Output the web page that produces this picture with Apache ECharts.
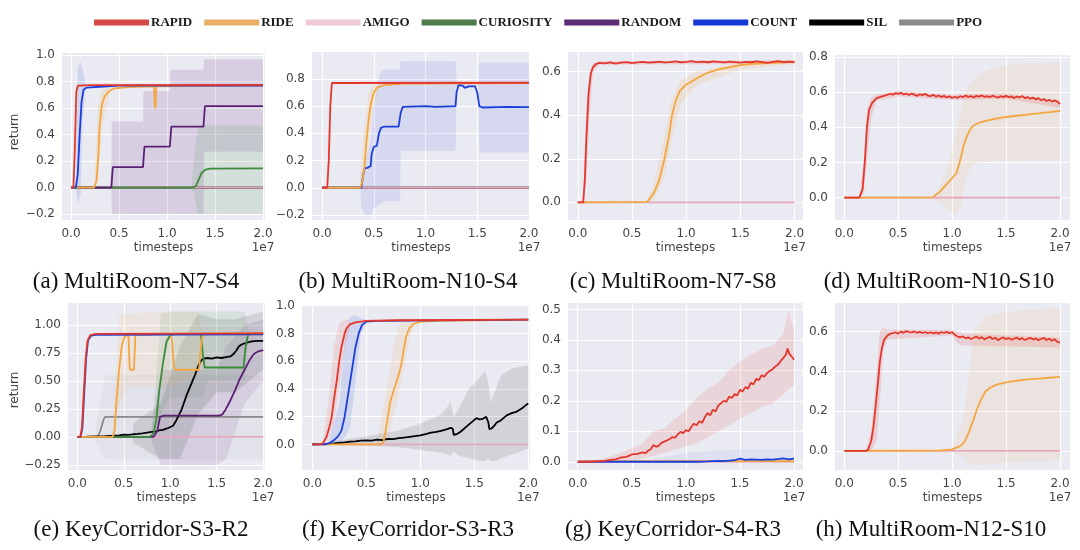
<!DOCTYPE html>
<html><head><meta charset="utf-8">
<script src="https://cdn.jsdelivr.net/npm/echarts@6/dist/echarts.min.js"></script>
<style>html,body{margin:0;padding:0;background:#fff}#c{width:1080px;height:550px}</style>
</head><body><div id="c"></div>
<script>
// ---------------- DATA (x in units of 1e7 timesteps) ----------------
const seriesNames = ['RAPID','RIDE','AMIGO','CURIOSITY','RANDOM','COUNT','SIL','PPO'];
const xTicks = [0, 0.5, 1.0, 1.5, 2.0];
const yTicksA = [-0.2, 0, 0.2, 0.4, 0.6, 0.8, 1.0];
const yTicksB = [-0.2, 0, 0.2, 0.4, 0.6, 0.8];
const yTicksC = [0, 0.2, 0.4, 0.6];
const yTicksD = [0, 0.2, 0.4, 0.6, 0.8];
const yTicksE = [-0.25, 0, 0.25, 0.5, 0.75, 1.0];
const yTicksF = [0, 0.2, 0.4, 0.6, 0.8, 1.0];
const yTicksG = [0, 0.1, 0.2, 0.3, 0.4, 0.5];
const yTicksH = [0, 0.2, 0.4, 0.6];
const captions = ['(a) MultiRoom-N7-S4','(b) MultiRoom-N10-S4','(c) MultiRoom-N7-S8','(d) MultiRoom-N10-S10',
                  '(e) KeyCorridor-S3-R2','(f) KeyCorridor-S3-R3','(g) KeyCorridor-S4-R3','(h) MultiRoom-N12-S10'];
const zeroLine = [[0,0],[2.0,0]];

// (a) MultiRoom-N7-S4
const a_RAPID = [[0,0],[0.025,0],[0.04,0.3],[0.055,0.72],[0.07,0.77],[0.2,0.774],[2.0,0.776]];
const a_COUNT = [[0,0],[0.05,0],[0.07,0.1],[0.09,0.4],[0.11,0.65],[0.13,0.74],[0.16,0.755],[0.3,0.762],[0.5,0.77],[2.0,0.77]];
const a_RIDE = [[0,0],[0.24,0],[0.265,0.05],[0.285,0.25],[0.3,0.48],[0.32,0.62],[0.35,0.69],[0.4,0.73],[0.45,0.75],[0.6,0.76],[0.865,0.765],[0.872,0.62],[0.88,0.6],[0.888,0.765],[2.0,0.77]];
const a_RANDOM = [[0,0],[0.42,0],[0.435,0.155],[0.75,0.155],[0.765,0.31],[1.03,0.31],[1.045,0.46],[1.38,0.46],[1.395,0.615],[2.0,0.615]];
const a_CURIOSITY = [[0,0],[1.26,0],[1.3,0.01],[1.33,0.06],[1.36,0.11],[1.4,0.135],[1.45,0.143],[2.0,0.145]];
const a_RANDOM_band = [[0.42,0,0],[0.425,-0.2,0.5],[0.75,-0.2,0.5],[0.755,-0.2,0.73],[1.03,-0.2,0.73],[1.035,-0.2,0.89],[1.38,-0.2,0.89],[1.385,0.27,0.97],[2.0,0.27,0.97]];
const a_CURIOSITY_band = [[1.25,0,0],[1.28,-0.05,0.2],[1.32,-0.2,0.45],[1.36,-0.2,0.47],[2.0,-0.2,0.47]];
const a_COUNT_band = [[0.05,0,0],[0.07,-0.12,0.9],[0.1,-0.05,0.95],[0.12,0.5,0.9],[0.15,0.74,0.78]];
const a_RIDE_band = [[0.24,0,0.02],[0.28,0.05,0.6],[0.32,0.45,0.74],[0.4,0.7,0.76]];

// (b) MultiRoom-N10-S4
const b_RAPID = [[0,0],[0.05,0],[0.065,0.2],[0.08,0.6],[0.095,0.77],[2.0,0.772]];
const b_RIDE = [[0,0],[0.37,0],[0.39,0.05],[0.41,0.15],[0.43,0.35],[0.45,0.5],[0.47,0.61],[0.5,0.7],[0.53,0.735],[0.6,0.755],[0.8,0.765],[2.0,0.77]];
const b_COUNT = [[0,0],[0.38,0],[0.395,0.08],[0.41,0.14],[0.45,0.15],[0.47,0.16],[0.48,0.25],[0.5,0.3],[0.53,0.31],[0.55,0.4],[0.57,0.44],[0.6,0.45],[0.74,0.45],[0.76,0.55],[0.78,0.595],[1.0,0.6],[1.1,0.595],[1.29,0.6],[1.3,0.7],[1.32,0.755],[1.36,0.75],[1.38,0.735],[1.42,0.745],[1.48,0.745],[1.5,0.7],[1.52,0.6],[1.55,0.59],[1.8,0.595],[2.0,0.593]];
const b_COUNT_band = [[0.37,0,0],[0.38,-0.15,0.1],[0.42,-0.2,0.2],[0.47,-0.2,0.35],[0.5,-0.15,0.6],[0.56,-0.12,0.85],[0.6,-0.1,0.87],[0.755,-0.1,0.87],[0.76,0.27,0.93],[1.29,0.27,0.93],[1.3,0.74,0.77],[1.51,0.74,0.77],[1.52,0.26,0.92],[2.0,0.26,0.92]];
const b_RIDE_band = [[0.36,0,0.02],[0.4,0.05,0.4],[0.45,0.35,0.7],[0.5,0.6,0.76],[0.55,0.72,0.77]];

// (c) MultiRoom-N7-S8
const c_RAPID = [[0,0],[0.05,0],[0.065,0.1],[0.08,0.3],[0.1,0.5],[0.12,0.59],[0.14,0.62],[0.17,0.635],[0.2,0.64],[0.25,0.638],[0.3,0.642],[0.35,0.637],[0.4,0.641],[0.45,0.644],[0.5,0.639],[0.55,0.642],[0.6,0.645],[0.65,0.641],[0.7,0.643],[0.75,0.646],[0.8,0.642],[0.85,0.644],[0.9,0.647],[0.95,0.643],[1.0,0.645],[1.05,0.648],[1.1,0.644],[1.15,0.646],[1.2,0.643],[1.25,0.647],[1.3,0.645],[1.35,0.642],[1.4,0.646],[1.45,0.644],[1.5,0.641],[1.55,0.645],[1.6,0.643],[1.65,0.647],[1.7,0.644],[1.75,0.64],[1.8,0.645],[1.85,0.648],[1.9,0.643],[1.95,0.646],[2.0,0.644]];
const c_RIDE = [[0,0],[0.64,0.002],[0.7,0.04],[0.75,0.1],[0.8,0.2],[0.84,0.3],[0.87,0.4],[0.9,0.46],[0.94,0.51],[1.0,0.54],[1.1,0.57],[1.2,0.595],[1.3,0.61],[1.4,0.62],[1.5,0.63],[1.6,0.635],[1.7,0.638],[1.8,0.64],[1.9,0.642],[2.0,0.645]];
const c_RAPID_band = [[0.05,0,0.01],[0.08,0.1,0.45],[0.11,0.4,0.6],[0.14,0.6,0.64],[0.2,0.632,0.648],[2.0,0.636,0.652]];
const c_RIDE_band = [[0.64,0,0.01],[0.7,0.01,0.08],[0.8,0.12,0.3],[0.87,0.3,0.48],[0.95,0.45,0.56],[1.1,0.54,0.6],[1.5,0.61,0.645],[2.0,0.635,0.655]];

// (d) MultiRoom-N10-S10
const d_RAPID = [[0,0],[0.14,0],[0.17,0.05],[0.19,0.2],[0.21,0.4],[0.23,0.5],[0.26,0.54],[0.3,0.565],[0.35,0.575],[0.4,0.583],[0.425,0.59],[0.45,0.585],[0.475,0.593],[0.5,0.589],[0.525,0.595],[0.55,0.586],[0.575,0.59],[0.6,0.583],[0.625,0.591],[0.65,0.585],[0.675,0.578],[0.7,0.587],[0.725,0.582],[0.75,0.59],[0.775,0.579],[0.8,0.576],[0.825,0.584],[0.85,0.574],[0.875,0.58],[0.9,0.571],[0.925,0.578],[0.95,0.569],[0.975,0.575],[1.0,0.566],[1.025,0.573],[1.05,0.567],[1.075,0.576],[1.1,0.57],[1.125,0.58],[1.15,0.572],[1.175,0.577],[1.2,0.569],[1.225,0.578],[1.25,0.574],[1.275,0.581],[1.3,0.572],[1.325,0.576],[1.35,0.57],[1.375,0.579],[1.4,0.573],[1.425,0.568],[1.45,0.576],[1.475,0.571],[1.5,0.578],[1.525,0.57],[1.55,0.575],[1.575,0.566],[1.6,0.574],[1.625,0.569],[1.65,0.577],[1.675,0.565],[1.7,0.571],[1.725,0.562],[1.75,0.568],[1.775,0.558],[1.8,0.565],[1.825,0.553],[1.85,0.56],[1.875,0.549],[1.9,0.556],[1.925,0.546],[1.95,0.552],[1.975,0.545],[2.0,0.532]];
const d_RIDE = [[0,0],[0.82,0.002],[0.88,0.03],[0.94,0.07],[1.0,0.11],[1.04,0.14],[1.07,0.2],[1.1,0.28],[1.13,0.34],[1.17,0.39],[1.2,0.41],[1.25,0.425],[1.3,0.435],[1.4,0.448],[1.5,0.458],[1.6,0.465],[1.7,0.472],[1.8,0.478],[1.9,0.485],[2.0,0.492]];
const d_RAPID_band = [[0.14,0,0.01],[0.18,0.02,0.2],[0.21,0.2,0.5],[0.25,0.45,0.57],[0.3,0.55,0.585],[0.5,0.575,0.605],[1.0,0.555,0.585],[1.5,0.56,0.59],[2.0,0.51,0.55]];
const d_RIDE_band = [[0.82,0,0.005],[0.9,-0.03,0.08],[0.97,-0.07,0.2],[1.03,-0.1,0.35],[1.08,-0.05,0.5],[1.12,0.1,0.6],[1.18,0.18,0.66],[1.25,0.2,0.7],[1.4,0.21,0.74],[1.6,0.21,0.76],[2.0,0.22,0.77]];

// (e) KeyCorridor-S3-R2
const e_RAPID = [[0,0],[0.03,0],[0.05,0.08],[0.07,0.4],[0.09,0.7],[0.11,0.86],[0.14,0.91],[0.2,0.92],[2.0,0.925]];
const e_COUNT = [[0,0],[0.035,0],[0.055,0.08],[0.075,0.4],[0.095,0.7],[0.115,0.86],[0.15,0.905],[0.2,0.912],[2.0,0.915]];
const e_RIDE = [[0,0],[0.38,0],[0.4,0.05],[0.42,0.3],[0.45,0.6],[0.48,0.82],[0.51,0.9],[0.55,0.91],[0.565,0.6],[0.61,0.6],[0.625,0.91],[1.0,0.92],[1.02,0.85],[1.04,0.62],[1.06,0.6],[1.31,0.6],[1.33,0.8],[1.35,0.92],[2.0,0.925]];
const e_CURIOSITY = [[0,0],[0.78,0],[0.82,0.03],[0.85,0.15],[0.88,0.4],[0.92,0.65],[0.96,0.85],[1.0,0.91],[1.05,0.92],[1.33,0.92],[1.35,0.75],[1.37,0.62],[1.79,0.62],[1.81,0.8],[1.84,0.92],[2.0,0.925]];
const e_SIL = [[0,0],[0.1,0.002],[0.2,0.005],[0.3,0.008],[0.35,0.01],[0.4,0.012],[0.45,0.015],[0.5,0.02],[0.55,0.018],[0.6,0.024],[0.65,0.027],[0.7,0.032],[0.75,0.038],[0.8,0.045],[0.85,0.05],[0.88,0.058],[0.92,0.063],[0.95,0.072],[0.98,0.08],[1.0,0.09],[1.03,0.1],[1.06,0.14],[1.09,0.19],[1.12,0.24],[1.15,0.31],[1.18,0.38],[1.21,0.44],[1.24,0.5],[1.27,0.56],[1.3,0.63],[1.33,0.68],[1.36,0.7],[1.4,0.705],[1.45,0.7],[1.5,0.71],[1.55,0.705],[1.6,0.712],[1.65,0.72],[1.68,0.74],[1.71,0.77],[1.74,0.81],[1.78,0.83],[1.82,0.84],[1.86,0.85],[1.9,0.855],[1.95,0.857],[2.0,0.858]];
const e_RANDOM = [[0,0],[0.82,0],[0.86,0.05],[0.89,0.18],[0.93,0.19],[1.52,0.19],[1.56,0.2],[1.6,0.25],[1.65,0.33],[1.7,0.42],[1.75,0.52],[1.8,0.6],[1.85,0.68],[1.9,0.74],[1.95,0.765],[2.0,0.775]];
const e_PPO = [[0,0],[0.22,0],[0.25,0.06],[0.28,0.15],[0.3,0.18],[2.0,0.18]];
const e_PPO_band = [[0.2,-0.05,0.1],[0.3,-0.2,0.55],[2.0,-0.2,0.55]];
const e_RANDOM_band = [[0.8,-0.05,0.1],[0.9,-0.25,0.6],[1.5,-0.25,0.6],[1.6,-0.2,0.8],[1.8,0.3,1.0],[2.0,0.5,1.05]];
const e_SIL_band = [[0.6,-0.05,0.12],[0.9,-0.2,0.3],[1.1,-0.2,0.8],[1.3,0.2,1.1],[1.5,0.4,1.05],[1.7,0.4,1.05],[2.0,0.6,1.12]];
const e_RIDE_band = [[0.38,0,0.02],[0.45,0.3,1.1],[0.55,0.45,1.1],[1.0,0.45,1.12],[1.3,0.55,1.12],[1.35,0.9,0.94],[2.0,0.9,0.94]];
const e_CURIOSITY_band = [[0.8,0,0.02],[0.9,0.2,1.1],[1.0,0.35,1.12],[1.35,0.35,1.12],[1.4,0.5,1.12],[1.8,0.5,1.12],[1.85,0.9,0.94],[2.0,0.9,0.94]];

// (f) KeyCorridor-S3-R3
const f_RAPID = [[0,0],[0.07,0],[0.1,0.01],[0.13,0.05],[0.16,0.13],[0.18,0.2],[0.2,0.32],[0.225,0.45],[0.25,0.6],[0.27,0.7],[0.3,0.8],[0.32,0.84],[0.35,0.865],[0.4,0.88],[0.5,0.89],[0.8,0.895],[2.0,0.9]];
const f_COUNT = [[0,0],[0.12,0],[0.16,0.01],[0.2,0.03],[0.24,0.06],[0.27,0.1],[0.3,0.2],[0.33,0.35],[0.36,0.5],[0.38,0.6],[0.4,0.7],[0.43,0.8],[0.46,0.86],[0.5,0.885],[0.6,0.89],[2.0,0.9]];
const f_RIDE = [[0,0],[0.64,0],[0.66,0.02],[0.68,0.1],[0.7,0.2],[0.72,0.3],[0.75,0.38],[0.78,0.45],[0.81,0.53],[0.83,0.6],[0.85,0.7],[0.87,0.78],[0.9,0.84],[0.94,0.87],[1.0,0.885],[1.2,0.89],[2.0,0.9]];
const f_SIL = [[0,0],[0.1,0.003],[0.2,0.008],[0.25,0.012],[0.3,0.015],[0.35,0.02],[0.4,0.022],[0.45,0.027],[0.5,0.03],[0.55,0.028],[0.6,0.035],[0.65,0.032],[0.7,0.04],[0.75,0.038],[0.8,0.045],[0.85,0.05],[0.9,0.055],[0.95,0.06],[1.0,0.065],[1.05,0.075],[1.1,0.085],[1.15,0.09],[1.2,0.1],[1.25,0.11],[1.28,0.12],[1.3,0.115],[1.31,0.07],[1.32,0.06],[1.34,0.075],[1.37,0.09],[1.4,0.11],[1.43,0.13],[1.46,0.15],[1.49,0.17],[1.52,0.19],[1.55,0.18],[1.58,0.185],[1.61,0.2],[1.63,0.16],[1.64,0.11],[1.66,0.115],[1.68,0.13],[1.71,0.16],[1.74,0.17],[1.77,0.19],[1.8,0.21],[1.83,0.22],[1.86,0.23],[1.89,0.235],[1.92,0.25],[1.95,0.265],[1.98,0.285],[2.0,0.295]];
const f_SIL_band = [[0,0,0],[0.5,-0.01,0.06],[0.8,-0.02,0.1],[1.0,-0.04,0.15],[1.2,-0.06,0.22],[1.28,-0.08,0.3],[1.31,-0.05,0.2],[1.35,-0.08,0.25],[1.45,-0.1,0.4],[1.55,-0.12,0.48],[1.6,-0.12,0.53],[1.63,-0.1,0.45],[1.65,-0.12,0.3],[1.7,-0.12,0.4],[1.75,-0.1,0.5],[1.85,-0.07,0.55],[2.0,-0.03,0.57]];
const f_COUNT_band = [[0.15,0,0.02],[0.25,0.01,0.3],[0.3,0.05,0.75],[0.35,0.12,0.92],[0.4,0.45,0.93],[0.45,0.8,0.91],[0.5,0.87,0.9]];
const f_RAPID_band = [[0.1,0,0.04],[0.15,0.05,0.3],[0.2,0.15,0.7],[0.25,0.4,0.87],[0.3,0.7,0.9],[0.35,0.83,0.9]];
const f_RIDE_band = [[0.6,0,0.02],[0.7,0.03,0.45],[0.75,0.2,0.7],[0.8,0.35,0.85],[0.85,0.55,0.9],[0.9,0.78,0.9],[0.95,0.86,0.9]];

// (g) KeyCorridor-S4-R3
const g_RAPID = [[0,0],[0.1,0],[0.2,0.002],[0.25,0.003],[0.3,0.006],[0.35,0.008],[0.4,0.014],[0.45,0.016],[0.5,0.024],[0.55,0.026],[0.6,0.031],[0.625,0.028],[0.65,0.036],[0.675,0.041],[0.7,0.055],[0.725,0.049],[0.75,0.053],[0.775,0.062],[0.8,0.066],[0.825,0.07],[0.85,0.075],[0.875,0.081],[0.9,0.079],[0.925,0.09],[0.95,0.098],[0.975,0.094],[1.0,0.104],[1.025,0.1],[1.05,0.114],[1.075,0.125],[1.1,0.12],[1.125,0.133],[1.15,0.128],[1.175,0.146],[1.2,0.16],[1.225,0.152],[1.25,0.171],[1.275,0.165],[1.3,0.185],[1.325,0.192],[1.35,0.2],[1.375,0.197],[1.4,0.214],[1.425,0.209],[1.45,0.222],[1.475,0.218],[1.5,0.236],[1.525,0.231],[1.55,0.245],[1.575,0.24],[1.6,0.259],[1.625,0.254],[1.65,0.272],[1.675,0.268],[1.7,0.284],[1.725,0.279],[1.75,0.291],[1.775,0.298],[1.8,0.303],[1.825,0.312],[1.85,0.318],[1.875,0.33],[1.9,0.34],[1.925,0.352],[1.94,0.372],[1.955,0.355],[1.97,0.36],[1.985,0.342],[2.0,0.335]];
const g_COUNT = [[0,0],[1.1,0],[1.2,0.001],[1.3,0.003],[1.35,0.002],[1.4,0.004],[1.45,0.005],[1.5,0.01],[1.55,0.006],[1.6,0.008],[1.65,0.007],[1.7,0.006],[1.75,0.008],[1.8,0.007],[1.85,0.009],[1.9,0.011],[1.95,0.008],[2.0,0.01]];
const g_RIDE = [[0,0],[0.3,0.002],[2.0,0.002]];
const g_RAPID_band = [[0.2,0,0.005],[0.4,0.005,0.03],[0.6,0.01,0.06],[0.7,0.02,0.1],[0.8,0.03,0.11],[0.9,0.04,0.14],[1.0,0.05,0.17],[1.1,0.06,0.21],[1.2,0.08,0.24],[1.3,0.1,0.26],[1.4,0.12,0.3],[1.5,0.14,0.33],[1.6,0.16,0.35],[1.7,0.18,0.37],[1.8,0.19,0.38],[1.9,0.22,0.42],[1.95,0.24,0.5],[2.0,0.25,0.43]];
const g_COUNT_band = [[0.7,0,0.01],[1.0,0,0.03],[1.5,0,0.04],[2.0,0,0.04]];

// (h) MultiRoom-N12-S10
const h_RAPID = [[0,0],[0.2,0],[0.22,0.005],[0.25,0.05],[0.27,0.12],[0.29,0.22],[0.31,0.33],[0.33,0.45],[0.35,0.52],[0.37,0.56],[0.4,0.58],[0.43,0.59],[0.45,0.592],[0.475,0.597],[0.5,0.59],[0.525,0.6],[0.55,0.594],[0.575,0.603],[0.6,0.598],[0.625,0.596],[0.65,0.601],[0.675,0.594],[0.7,0.599],[0.725,0.593],[0.75,0.598],[0.775,0.592],[0.8,0.597],[0.825,0.591],[0.85,0.596],[0.875,0.59],[0.9,0.598],[0.925,0.593],[0.95,0.599],[0.975,0.592],[1.0,0.597],[1.025,0.584],[1.05,0.575],[1.075,0.571],[1.1,0.576],[1.125,0.566],[1.15,0.571],[1.175,0.563],[1.2,0.569],[1.225,0.575],[1.25,0.566],[1.275,0.572],[1.3,0.561],[1.325,0.568],[1.35,0.574],[1.375,0.563],[1.4,0.569],[1.425,0.557],[1.45,0.566],[1.475,0.571],[1.5,0.562],[1.525,0.568],[1.55,0.559],[1.575,0.565],[1.6,0.57],[1.625,0.561],[1.65,0.567],[1.675,0.558],[1.7,0.564],[1.725,0.569],[1.75,0.56],[1.775,0.566],[1.8,0.557],[1.825,0.563],[1.85,0.569],[1.875,0.558],[1.9,0.564],[1.925,0.554],[1.95,0.562],[1.975,0.548],[2.0,0.545]];
const h_RIDE = [[0,0],[0.9,0.002],[1.0,0.008],[1.08,0.025],[1.12,0.05],[1.16,0.1],[1.2,0.16],[1.23,0.21],[1.27,0.26],[1.31,0.3],[1.36,0.32],[1.42,0.335],[1.5,0.345],[1.6,0.353],[1.7,0.36],[1.8,0.364],[1.9,0.368],[2.0,0.372]];
const h_RAPID_band = [[0.2,0,0.005],[0.25,0.0,0.1],[0.3,0.05,0.4],[0.33,0.25,0.6],[0.36,0.5,0.62],[0.4,0.56,0.61],[1.0,0.58,0.61],[1.05,0.54,0.6],[1.1,0.53,0.59],[2.0,0.52,0.57]];
const h_RIDE_band = [[1.0,0,0.02],[1.1,-0.03,0.15],[1.15,-0.06,0.35],[1.2,-0.07,0.6],[1.3,-0.07,0.68],[1.5,-0.06,0.7],[2.0,-0.05,0.72]];

// ---------------- STYLE ----------------
const lineColors = {RAPID:'#e4372c', RIDE:'#f4a640', AMIGO:'#e6a7ba', CURIOSITY:'#3d8b3a', RANDOM:'#5b2075', COUNT:'#1c3fdc', SIL:'#000000', PPO:'#8a8a8a'};
const legendColors = {RAPID:'#d64a48', RIDE:'#e8b066', AMIGO:'#f0c9d6', CURIOSITY:'#4d7b4a', RANDOM:'#5e2b75', COUNT:'#1538d6', SIL:'#000000', PPO:'#8a8a8a'};
const TICKFONT = 'DejaVu Sans';

// panel layout (pixel boxes for the shaded axes area + axis extents)
const panels = [
 {L:62, T:53, W:203,H:167, xr:[-0.094,2.021], yr:[-0.245,1.017], yt:yTicksA, dec:1, capX:136, capY:282, ylab:[15,132],
  bands:[['RANDOM',a_RANDOM_band,0.13],['CURIOSITY',a_CURIOSITY_band,0.12],['COUNT',a_COUNT_band,0.12],['RIDE',a_RIDE_band,0.15]],
  lines:[['PPO',zeroLine],['SIL',zeroLine],['AMIGO',zeroLine],['CURIOSITY',a_CURIOSITY],['RANDOM',a_RANDOM],['RIDE',a_RIDE],['COUNT',a_COUNT],['RAPID',a_RAPID]]},
 {L:312,T:52, W:218,H:168, xr:[-0.097,2.01], yr:[-0.237,0.998], yt:yTicksB, dec:1, capX:408, capY:282,
  bands:[['COUNT',b_COUNT_band,0.1],['RIDE',b_RIDE_band,0.15]],
  lines:[['PPO',zeroLine],['SIL',zeroLine],['AMIGO',zeroLine],['COUNT',b_COUNT],['RIDE',b_RIDE],['RAPID',b_RAPID]]},
 {L:568,T:52, W:235,H:168, xr:[-0.09,2.078], yr:[-0.081,0.69], yt:yTicksC, dec:1, capX:673, capY:282,
  bands:[['RAPID',c_RAPID_band,0.15],['RIDE',c_RIDE_band,0.15]],
  lines:[['AMIGO',zeroLine],['RIDE',c_RIDE],['RAPID',c_RAPID]]},
 {L:835,T:55, W:235,H:165, xr:[-0.086,2.093], yr:[-0.127,0.81], yt:yTicksD, dec:1, capX:939, capY:282,
  bands:[['RIDE',d_RIDE_band,0.1],['RAPID',d_RAPID_band,0.15]],
  lines:[['AMIGO',zeroLine],['RIDE',d_RIDE],['RAPID',d_RAPID]]},
 {L:68, T:303,W:197,H:167, xr:[-0.1,2.02], yr:[-0.295,1.196], yt:yTicksE, dec:2, capX:141, capY:530, ylab:[15,390],
  bands:[['PPO',e_PPO_band,0.08],['RANDOM',e_RANDOM_band,0.1],['SIL',e_SIL_band,0.1],['RIDE',e_RIDE_band,0.1],['CURIOSITY',e_CURIOSITY_band,0.1]],
  lines:[['AMIGO',zeroLine],['PPO',e_PPO],['SIL',e_SIL],['RANDOM',e_RANDOM],['CURIOSITY',e_CURIOSITY],['RIDE',e_RIDE],['COUNT',e_COUNT],['RAPID',e_RAPID]]},
 {L:302,T:305,W:228,H:165, xr:[-0.095,2.016], yr:[-0.184,1.005], yt:yTicksF, dec:1, capX:408, capY:530,
  bands:[['SIL',f_SIL_band,0.1],['COUNT',f_COUNT_band,0.12],['RAPID',f_RAPID_band,0.12],['RIDE',f_RIDE_band,0.12]],
  lines:[['AMIGO',zeroLine],['SIL',f_SIL],['RIDE',f_RIDE],['COUNT',f_COUNT],['RAPID',f_RAPID]]},
 {L:568,T:303,W:235,H:167, xr:[-0.09,2.083], yr:[-0.027,0.521], yt:yTicksG, dec:1, capX:673, capY:530,
  bands:[['COUNT',g_COUNT_band,0.06],['RAPID',g_RAPID_band,0.12]],
  lines:[['AMIGO',zeroLine],['RIDE',g_RIDE],['COUNT',g_COUNT],['RAPID',g_RAPID]]},
 {L:835,T:303,W:235,H:167, xr:[-0.086,2.093], yr:[-0.096,0.744], yt:yTicksH, dec:1, capX:931, capY:530,
  bands:[['RIDE',h_RIDE_band,0.1],['RAPID',h_RAPID_band,0.15]],
  lines:[['AMIGO',zeroLine],['RIDE',h_RIDE],['RAPID',h_RAPID]]}
];

function rgba(hex, a){ const n = parseInt(hex.slice(1),16); return 'rgba('+((n>>16)&255)+','+((n>>8)&255)+','+(n&255)+','+a+')'; }
function fmt(v, dec){ const s = Math.abs(v).toFixed(dec); return (v < -1e-9 ? '\u2212' : '') + s; }

const grids=[], xAxes=[], yAxes=[], series=[], graphics=[];
panels.forEach((p,i)=>{
  grids.push({left:p.L, top:p.T, width:p.W, height:p.H, show:true, backgroundColor:'#eaeaf2', borderWidth:0, containLabel:false, outerBoundsMode:'none'});
  xAxes.push({type:'value', gridIndex:i, min:p.xr[0], max:p.xr[1],
    axisLine:{show:false}, axisTick:{show:false, customValues:xTicks},
    axisLabel:{customValues:xTicks, formatter:v=>fmt(v,1), fontFamily:TICKFONT, fontSize:12, color:'#444', margin:8},
    splitLine:{show:true, lineStyle:{color:'#ffffff', width:1.2}},
    name:'timesteps', nameLocation:'middle', nameGap:22, nameTextStyle:{fontFamily:TICKFONT, fontSize:12, color:'#444'}});
  yAxes.push({type:'value', gridIndex:i, min:p.yr[0], max:p.yr[1],
    axisLine:{show:false}, axisTick:{show:false, customValues:p.yt},
    axisLabel:{customValues:p.yt, formatter:v=>fmt(v,p.dec), fontFamily:TICKFONT, fontSize:12, color:'#444', margin:7},
    splitLine:{show:true, lineStyle:{color:'#ffffff', width:1.2}}});
  p.bands.forEach(b=>{
    const data=b[1], col=rgba(lineColors[b[0]], b[2]);
    series.push({type:'custom', name:b[0], xAxisIndex:i, yAxisIndex:i, data:data, encode:{x:0, y:[1,2]}, silent:true, z:1, clip:true,
      renderItem:function(params, api){
        if (params.dataIndex !== 0) return null;
        const top = data.map(d=>api.coord([d[0], d[2]]));
        const bot = data.map(d=>api.coord([d[0], d[1]])).reverse();
        return {type:'polygon', shape:{points: top.concat(bot)}, style:{fill: col}};
      }});
  });
  p.lines.forEach(l=>{
    const c = lineColors[l[0]];
    series.push({type:'line', name:l[0], xAxisIndex:i, yAxisIndex:i, data:l[1], showSymbol:false, symbol:'none', silent:true, z:3,
      lineStyle:{color:c, width:1.8}, itemStyle:{color:c}});
  });
  graphics.push({type:'text', x:p.capX, y:p.capY, style:{text:captions[i], fill:'#111', fontFamily:'Liberation Serif', fontSize:23, align:'center', verticalAlign:'middle'}});
  const x2 = p.L + (2 - p.xr[0])/(p.xr[1]-p.xr[0])*p.W;
  graphics.push({type:'text', x:x2, y:p.T+p.H+28, style:{text:'1e7', fill:'#444', fontFamily:TICKFONT, fontSize:12, align:'center', verticalAlign:'middle'}});
  if (p.ylab) graphics.push({type:'text', x:p.ylab[0], y:p.ylab[1], rotation:Math.PI/2, style:{text:'return', fill:'#444', fontFamily:TICKFONT, fontSize:12, align:'center', verticalAlign:'middle'}});
});

const chart = echarts.init(document.getElementById('c'), null, {renderer:'canvas'});
chart.setOption({
  animation:false,
  backgroundColor:'#ffffff',
  legend:{top:11, left:89, itemWidth:55, itemHeight:6, itemGap:12, icon:'rect', selectedMode:false,
    data: seriesNames.map(n=>({name:n, icon:'rect', itemStyle:{color:legendColors[n]}})),
    textStyle:{fontFamily:'Liberation Serif', fontWeight:'bold', fontSize:13, color:'#1a1a1a', padding:[0,0,0,-3]}},
  grid:grids, xAxis:xAxes, yAxis:yAxes, series:series, graphic:graphics
});
</script></body></html>
